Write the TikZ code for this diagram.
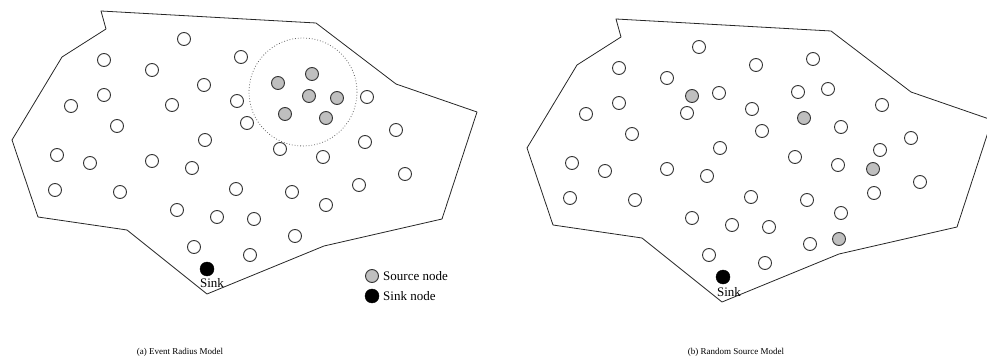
\documentclass[tikz,border=0pt]{standalone}
\usepackage{fontspec}
\setmainfont{Liberation Serif}
\begin{document}
\begin{tikzpicture}[x=1pt,y=-1pt,
  wn/.style={circle,draw=black!80,line width=0.9pt,fill=white,minimum size=13pt,inner sep=0pt},
  gn/.style={wn,fill=black!25},
  bn/.style={circle,fill=black,draw=black,minimum size=14pt,inner sep=0pt},
  field/.style={draw=black!85,line width=0.8pt,line join=round},
  lbl/.style={font=\fontsize{13}{13}\selectfont,inner sep=0pt},
  captext/.style={font=\fontsize{9}{9}\selectfont,inner sep=0pt}]
\useasboundingbox (0,0) rectangle (987,363);
% --- panel (a)
\draw[field] (101,11) -- (316,23) -- (396,84) -- (477,112) -- (442,219) -- (324,246) -- (207,294) -- (127,230) -- (38,217) -- (12,140) -- (62,57) -- (106,29) -- cycle;
\draw[black!60,dotted,line width=0.8pt] (303,92) circle (54);
\foreach \x/\y [count=\i] in {184/39,104/60,152/70,241/57,204/85,104/95,71/106,172/105,237/101,117/126,205/140,247/123,57/155,90/163,152/161,192/168,55/190,120/192,236/189,177/210,217/217,254/219,194/247,250/255,280/149,323/157,365/142,396/130,367/97,359/185,405/174,292/192,326/205,295/236}
  \node[wn] (a\i) at (\x,\y) {};
\foreach \x/\y [count=\i] in {278/83,312/74,309/96,337/98,285/114,326/118}
  \node[gn] (as\i) at (\x,\y) {};
\node[bn] (asink) at (207,269) {};
\node[lbl] (asinkl) at (212,283) {Sink};
% legend
\node[gn] (lg1) at (372,276) {};
\node[lbl,anchor=west] (lt1) at (383,276) {Source node};
\node[bn] (lg2) at (372,296) {};
\node[lbl,anchor=west] (lt2) at (383,296) {Sink node};
\node[captext] (capa) at (180,352) {(a) Event Radius Model};
% --- panel (b)
\begin{scope}[xshift=515pt,yshift=-8pt]
\draw[field] (101,11) -- (316,23) -- (396,84) -- (477,112) -- (442,219) -- (324,246) -- (207,294) -- (127,230) -- (38,217) -- (12,140) -- (62,57) -- (106,29) -- cycle;
\foreach \x/\y [count=\i] in {184/39,104/60,152/70,241/57,204/85,104/95,71/106,172/105,237/101,117/126,205/140,247/123,57/155,90/163,152/161,192/168,55/190,120/192,236/189,177/210,217/217,254/219,194/247,250/255,280/149,323/157,365/142,396/130,367/97,359/185,405/174,292/192,326/205,295/236}
  \node[wn] (b\i) at (\x,\y) {};
\end{scope}
\foreach \x/\y [count=\i] in {813/59,798/92,828/89,841/127}
  \node[wn] (bx\i) at (\x,\y) {};
\foreach \x/\y [count=\i] in {692/96,804/118,873/169,839/239}
  \node[gn] (bs\i) at (\x,\y) {};
\node[bn] (bsink) at (723,277) {};
\node[lbl] (bsinkl) at (729,292) {Sink};
\node[captext] (capb) at (736,352) {(b) Random Source Model};
\end{tikzpicture}
\end{document}
